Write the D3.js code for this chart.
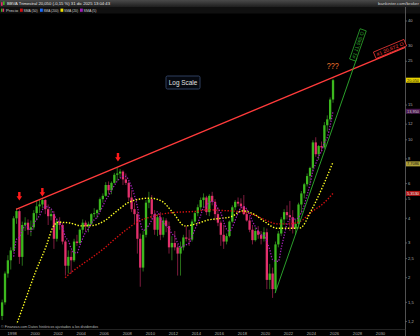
<!DOCTYPE html>
<html>
<head>
<meta charset="utf-8">
<script src="https://cdn.jsdelivr.net/npm/d3@7"></script>
<style>
  body { margin: 0; background: #000; }
  svg { display: block; }
  text { font-family: "Liberation Sans", Arial, sans-serif; }
</style>
</head>
<body>
<div id="chart"></div>
<script>
// BBVA trimestral, precios ajustados (Q1 1997 .. Q4 2025)
const firstYear = 1997;

const open = [
  1.28, 1.50, 2.10, 2.45,   2.75, 4.00, 4.35, 2.55,   3.70, 3.80, 3.50, 3.60,
  4.25, 4.60, 4.70, 4.95,   4.45, 4.10, 4.20, 3.15,   3.85, 3.70, 3.05, 2.30,
  2.55, 2.45, 3.05, 3.00,   3.50, 3.80, 3.65, 3.75,   4.20, 4.25, 4.40, 5.00,
  5.20, 5.90, 5.55, 6.05,   6.65, 6.75, 6.90, 6.30,   6.05, 5.10, 4.45, 4.20,
  3.15, 2.25, 3.30, 4.80,   5.00, 4.20, 3.50, 4.05,   3.30, 3.90, 3.65, 2.85,
  3.00, 2.85, 2.65, 2.85,   3.20, 3.15, 3.12, 3.85,   4.25, 4.55, 4.95, 5.10,
  4.30, 5.20, 4.85, 4.20,   3.80, 3.30, 3.05, 3.25,   3.85, 4.55, 4.85, 4.75,
  4.60, 4.20, 3.90, 3.50,   3.10, 3.45, 3.30, 3.15,   3.40, 1.95, 2.10, 1.75,
  2.95, 3.35, 3.95, 4.30,   4.15, 4.05, 3.55, 3.75,   4.70, 5.35, 5.95, 6.55,
  7.20, 9.70, 8.45, 9.30,   9.15, 11.85, 12.70, 16.00
];
const high = [
  1.55, 2.15, 2.60, 2.85,   4.10, 4.50, 4.45, 3.85,   4.05, 3.95, 3.90, 4.40,
  4.90, 5.00, 5.05, 5.00,   4.70, 4.45, 4.35, 4.00,   4.05, 3.80, 3.10, 2.75,
  2.75, 3.15, 3.30, 3.55,   3.95, 3.90, 3.85, 4.25,   4.50, 4.45, 5.10, 5.35,
  6.10, 6.15, 6.15, 6.80,   7.20, 7.10, 7.00, 6.75,   6.15, 5.55, 4.80, 4.35,
  3.35, 3.45, 4.95, 5.45,   5.25, 4.40, 4.20, 4.30,   4.05, 4.00, 3.85, 3.25,
  3.45, 2.95, 3.05, 3.30,   3.65, 3.50, 3.95, 4.30,   4.70, 5.10, 5.35, 5.20,
  5.30, 5.45, 5.00, 4.55,   3.90, 3.70, 3.35, 3.90,   4.65, 4.95, 5.10, 5.05,
  5.25, 4.45, 4.10, 3.70,   3.60, 3.65, 3.45, 3.60,   3.55, 2.35, 2.25, 3.05,
  3.45, 4.05, 4.45, 4.65,   4.90, 4.40, 3.95, 4.80,   5.50, 6.05, 6.75, 7.30,
  9.95, 10.30, 9.40, 9.80,  12.30, 13.30, 16.40, 20.40
];
const low = [
  1.22, 1.46, 2.00, 2.20,   2.70, 3.75, 2.35, 2.30,   3.45, 3.30, 3.25, 3.50,
  3.90, 4.25, 4.50, 4.20,   3.70, 3.90, 2.80, 3.05,   3.50, 2.95, 2.05, 2.10,
  2.10, 2.40, 2.90, 2.95,   3.35, 3.45, 3.40, 3.70,   4.05, 4.00, 4.30, 4.80,
  5.15, 5.30, 5.30, 6.00,   6.20, 6.40, 5.90, 5.90,   4.90, 4.30, 3.75, 2.65,
  1.80, 2.15, 3.20, 4.50,   3.95, 3.30, 3.25, 3.10,   3.20, 3.40, 2.65, 2.45,
  2.75, 2.05, 2.05, 2.75,   3.05, 2.90, 3.05, 3.75,   4.10, 4.40, 4.55, 4.15,
  4.10, 4.65, 3.90, 3.65,   2.90, 2.80, 2.95, 3.20,   3.80, 4.40, 4.60, 4.45,
  4.15, 3.85, 3.40, 2.95,   3.05, 3.15, 2.95, 3.05,   1.75, 1.75, 1.58, 1.68,
  2.85, 3.25, 3.70, 3.95,   3.45, 3.35, 3.30, 3.60,   4.25, 5.05, 5.80, 6.00,
  6.95, 8.20, 7.90, 8.70,   9.00, 11.00, 12.40, 15.40
];
const close = [
  1.50, 2.10, 2.45, 2.75,   4.00, 4.35, 2.55, 3.70,   3.80, 3.50, 3.60, 4.25,
  4.60, 4.70, 4.95, 4.45,   4.10, 4.20, 3.15, 3.85,   3.70, 3.05, 2.30, 2.55,
  2.45, 3.05, 3.00, 3.50,   3.80, 3.65, 3.75, 4.20,   4.25, 4.40, 5.00, 5.20,
  5.90, 5.55, 6.05, 6.65,   6.75, 6.90, 6.30, 6.05,   5.10, 4.45, 4.20, 3.15,
  2.25, 3.30, 4.80, 5.00,   4.20, 3.50, 4.05, 3.30,   3.90, 3.65, 2.85, 3.00,
  2.85, 2.65, 2.85, 3.20,   3.15, 3.12, 3.85, 4.25,   4.55, 4.95, 5.10, 4.30,
  5.20, 4.85, 4.20, 3.80,   3.30, 3.05, 3.25, 3.85,   4.55, 4.85, 4.75, 4.60,
  4.20, 3.90, 3.50, 3.10,   3.45, 3.30, 3.15, 3.40,   1.95, 2.10, 1.75, 2.95,
  3.35, 3.95, 4.30, 4.15,   4.05, 3.55, 3.75, 4.70,   5.35, 5.95, 6.55, 7.20,
  9.70, 8.45, 9.30, 9.15,   11.85, 12.70, 16.00, 20.05
];

// medias móviles [año, valor]
const sma20 = [
  [1997.6, 0.85], [1998.0, 1.0], [1999.0, 1.46], [2000.0, 2.12], [2001.0, 2.94],
  [2001.5, 3.57], [2002.0, 3.82], [2003.0, 3.79], [2004.0, 3.66], [2005.0, 3.68],
  [2006.0, 3.88], [2007.0, 4.31], [2008.0, 4.77], [2009.0, 5.0], [2010.0, 5.06],
  [2011.0, 4.88], [2012.0, 4.25], [2013.0, 3.66], [2014.0, 3.75], [2015.0, 3.92],
  [2016.0, 3.99], [2017.0, 4.07], [2018.0, 4.36], [2019.0, 4.2], [2020.0, 3.82],
  [2021.0, 3.56], [2022.0, 3.56], [2023.0, 3.57], [2024.0, 4.4], [2025.0, 5.83],
  [2025.875, 7.71]
];
const sma50 = [
  [2002.6, 2.0], [2003.0, 2.1], [2004.0, 2.32], [2005.0, 2.55], [2006.0, 2.82],
  [2007.0, 3.17], [2008.0, 3.53], [2009.0, 3.87], [2010.0, 4.06], [2011.0, 4.2],
  [2012.0, 4.28], [2013.0, 4.31], [2014.0, 4.34], [2015.0, 4.42], [2016.0, 4.39],
  [2017.0, 4.36], [2018.0, 4.31], [2019.0, 4.16], [2020.0, 3.92], [2021.0, 3.75],
  [2022.0, 3.75], [2023.0, 3.85], [2024.0, 4.31], [2025.0, 4.74], [2025.875, 5.35]
];

// líneas de tendencia y marcas
const resistLine = [[1998.33, 4.44], [2032.13, 29.4]];
const supportLine = [[2020.84, 1.67], [2027.95, 26.0]];
const arrowTips = [[1998.62, 4.92], [2000.62, 5.16], [2007.19, 7.76]];
const questionMark = [2025.85, 23.9];

const yTicks = [40, 30, 25, 15, 12, 10, 8, 6, 5, 4, 3, 2.5, 2, 1.5, 1.2];
const xTicks = d3.range(1998, 2031, 2);
const priceTags = [
  {v: 20.05, label: "20,050", bg: "#e8d400", fg: "#111"},
  {v: 13.95, label: "13,950", bg: "#4a1850", fg: "#ccc"},
  {v: 7.55, label: "7,7086", bg: "#b0a23a", fg: "#111"},
  {v: 5.35, label: "5,3530", bg: "#b01414", fg: "#eee"}
];

const width = 420, height = 336, axisX = 405.5;

const svg = d3.select("#chart").append("svg")
  .attr("width", width).attr("height", height)
  .style("background", "#000");

const x = d3.scaleLinear().domain([1998, 2030]).range([12.2, 380.5]);
const y = d3.scaleLog().domain([40, 1]).range([21, 337.1]);

// cabecera
const grad = svg.append("defs").append("linearGradient")
  .attr("id", "hdr").attr("x1", 0).attr("y1", 0).attr("x2", 0).attr("y2", 1);
grad.append("stop").attr("offset", "0%").attr("stop-color", "#4a4a4a");
grad.append("stop").attr("offset", "100%").attr("stop-color", "#1e1e1e");
svg.append("rect").attr("width", width).attr("height", 7).attr("fill", "url(#hdr)");
svg.append("rect").attr("y", 7).attr("width", width).attr("height", 6.5).attr("fill", "#101010");

svg.append("rect").attr("x", 1).attr("y", 2.2).attr("width", 1.6).attr("height", 3.6).attr("fill", "#e0306a");
svg.append("rect").attr("x", 3).attr("y", 1.4).attr("width", 1.6).attr("height", 3.6).attr("fill", "#39b020");
svg.append("text").attr("x", 7).attr("y", 5.4)
  .attr("font-size", 4.3).attr("fill", "#e6e6e6")
  .attr("textLength", 103).attr("lengthAdjust", "spacingAndGlyphs")
  .text("BBVA Trimestral 20,050 (-0,15 %) 31 dic 2025 13:04:43");
svg.append("text").attr("x", 419).attr("y", 5.2).attr("text-anchor", "end")
  .attr("font-size", 4).attr("fill", "#cfcfcf")
  .attr("textLength", 41).attr("lengthAdjust", "spacingAndGlyphs")
  .text("bankinter.com/broker");

// leyenda
const legend = [
  {label: "Precio", color: null, x: 6, w: 12},
  {label: "SMA (50)", color: "#d01010", x: 23.5, w: 14},
  {label: "SMA (200)", color: "#1a6cff", x: 43.5, w: 15},
  {label: "SMA (20)", color: "#f0e000", x: 64, w: 14},
  {label: "SMA (5)", color: "#a01eb4", x: 83.5, w: 13}
];
legend.forEach(d => {
  if (d.color) {
    svg.append("rect").attr("x", d.x - 3.5).attr("y", 8.6).attr("width", 2.8).attr("height", 3.2).attr("fill", d.color);
  } else {
    svg.append("rect").attr("x", 1).attr("y", 8.6).attr("width", 1.5).attr("height", 3.2).attr("fill", "#39b020");
    svg.append("rect").attr("x", 2.6).attr("y", 8.6).attr("width", 1.5).attr("height", 3.2).attr("fill", "#e0306a");
  }
  svg.append("text").attr("x", d.x).attr("y", 11.6)
    .attr("font-size", 4).attr("fill", "#cfcfcf")
    .attr("textLength", d.w).attr("lengthAdjust", "spacingAndGlyphs")
    .text(d.label);
});

// eje derecho
svg.append("line").attr("x1", axisX).attr("x2", axisX).attr("y1", 7).attr("y2", height)
  .attr("stroke", "#666").attr("stroke-width", 0.8);
svg.append("line").attr("x1", 0).attr("x2", axisX).attr("y1", 329.5).attr("y2", 329.5)
  .attr("stroke", "#3a3a3a").attr("stroke-width", 0.6);

const fmt = v => String(v).replace(".", ",");
yTicks.forEach(v => {
  svg.append("line").attr("x1", axisX).attr("x2", axisX + 1.5).attr("y1", y(v)).attr("y2", y(v))
    .attr("stroke", "#888").attr("stroke-width", 0.6);
  svg.append("text").attr("x", axisX + 2.5).attr("y", y(v) + 1.2)
    .attr("font-size", 4.1).attr("fill", "#b0b0b0").text(fmt(v));
});
xTicks.forEach(t => {
  svg.append("text").attr("x", x(t)).attr("y", 334.5).attr("text-anchor", "middle")
    .attr("font-size", 4.2).attr("fill", "#b0b0b0").text(t);
});
svg.append("text").attr("x", 1).attr("y", 327.6)
  .attr("font-size", 3.6).attr("fill", "#b8b8b8")
  .attr("textLength", 97).attr("lengthAdjust", "spacingAndGlyphs")
  .text("© Finanzas.com Datos históricos ajustados a los dividendos");

// zona del gráfico
svg.append("clipPath").attr("id", "plot").append("rect")
  .attr("x", 0).attr("y", 14).attr("width", axisX).attr("height", 310);
const plot = svg.append("g").attr("clip-path", "url(#plot)");

const candles = close.map((c, i) => ({
  t: firstYear + i / 4 + 0.125, o: open[i], h: high[i], l: low[i], c: c
}));
const up = d => d.c >= d.o;

plot.selectAll(".wick").data(candles).enter().append("line")
  .attr("x1", d => x(d.t)).attr("x2", d => x(d.t))
  .attr("y1", d => y(d.h)).attr("y2", d => y(d.l))
  .attr("stroke", d => up(d) ? "#2c7a1c" : "#8a1e44").attr("stroke-width", 0.9);

plot.selectAll(".body").data(candles).enter().append("rect")
  .attr("x", d => x(d.t) - 1.15).attr("width", 2.3)
  .attr("y", d => y(Math.max(d.o, d.c)))
  .attr("height", d => Math.max(0.8, Math.abs(y(d.o) - y(d.c))))
  .attr("fill", d => up(d) ? "#3cb81e" : "#e2306c");

// medias móviles
const line = d3.line().x(d => x(d[0])).y(d => y(d[1])).curve(d3.curveMonotoneX);
const sma5 = candles.slice(4).map((d, i) => [d.t, d3.mean(close.slice(i, i + 5))]);

plot.append("path").datum(sma50).attr("d", line)
  .attr("fill", "none").attr("stroke", "#d01010").attr("stroke-width", 1.4)
  .attr("stroke-dasharray", "1.4,1.6");
plot.append("path").datum(sma20).attr("d", line)
  .attr("fill", "none").attr("stroke", "#ffff22").attr("stroke-width", 1.4)
  .attr("stroke-dasharray", "1.4,1.6");
plot.append("path").datum(sma5).attr("d", line)
  .attr("fill", "none").attr("stroke", "#a01eb4").attr("stroke-width", 1.3)
  .attr("stroke-dasharray", "1.3,1.5");

// líneas de tendencia con su etiqueta
function trendline(pts, color, width, label, along, offset, w, h) {
  const p1 = [x(pts[0][0]), y(pts[0][1])], p2 = [x(pts[1][0]), y(pts[1][1])];
  svg.append("line").attr("x1", p1[0]).attr("y1", p1[1]).attr("x2", p2[0]).attr("y2", p2[1])
    .attr("stroke", color).attr("stroke-width", width);
  const len = Math.hypot(p2[0] - p1[0], p2[1] - p1[1]);
  const d = [(p2[0] - p1[0]) / len, (p2[1] - p1[1]) / len];
  const n = [d[1], -d[0]];
  const cx = p2[0] + along * d[0] + offset * n[0];
  const cy = p2[1] + along * d[1] + offset * n[1];
  const ang = Math.atan2(d[1], d[0]) * 180 / Math.PI;
  const g = svg.append("g").attr("transform", `translate(${cx},${cy}) rotate(${ang})`);
  g.append("rect").attr("x", -w / 2).attr("y", -h / 2).attr("width", w).attr("height", h)
    .attr("fill", "#000").attr("stroke", color).attr("stroke-width", 0.7);
  g.append("text").attr("y", 1.7).attr("text-anchor", "middle")
    .attr("font-size", 4.8).attr("fill", color)
    .attr("textLength", w - 4).attr("lengthAdjust", "spacingAndGlyphs")
    .text(label);
}
trendline(resistLine, "#ff3b3b", 1.3, "#1 20,672 O", -14.5, 4.3, 33, 7);
trendline(supportLine, "#2fb02f", 0.9, "#1 11,565 O", 12.6, 3.3, 32, 6.5);

// flechas rojas sobre los máximos
svg.selectAll(".arrow").data(arrowTips).enter().append("path")
  .attr("transform", d => `translate(${x(d[0])},${y(d[1])})`)
  .attr("d", "M-1.2,-8.5L1.2,-8.5L1.2,-4.3L2.8,-4.3L0,0L-2.8,-4.3L-1.2,-4.3Z")
  .attr("fill", "#ff1a1a");

svg.append("text").attr("x", x(questionMark[0])).attr("y", y(questionMark[1]) + 3.8)
  .attr("text-anchor", "middle").attr("font-size", 9).attr("fill", "#f07a30")
  .attr("textLength", 12).attr("lengthAdjust", "spacingAndGlyphs")
  .text("???");

// recuadro "Log Scale"
svg.append("rect").attr("x", 166).attr("y", 76).attr("width", 34).attr("height", 13).attr("rx", 1.5)
  .attr("fill", "#05080f").attr("stroke", "#34466a").attr("stroke-width", 0.9);
svg.append("text").attr("x", 183).attr("y", 85).attr("text-anchor", "middle")
  .attr("font-size", 6.4).attr("fill", "#e0e0e0").text("Log Scale");

// etiquetas de valor en el eje
priceTags.forEach(d => {
  svg.append("rect").attr("x", axisX + 0.5).attr("y", y(d.v) - 2.5).attr("width", 14).attr("height", 5)
    .attr("fill", d.bg);
  svg.append("text").attr("x", axisX + 1.5).attr("y", y(d.v) + 1.4)
    .attr("font-size", 3.9).attr("fill", d.fg)
    .attr("textLength", 12).attr("lengthAdjust", "spacingAndGlyphs")
    .text(d.label);
});
</script>
</body>
</html>
